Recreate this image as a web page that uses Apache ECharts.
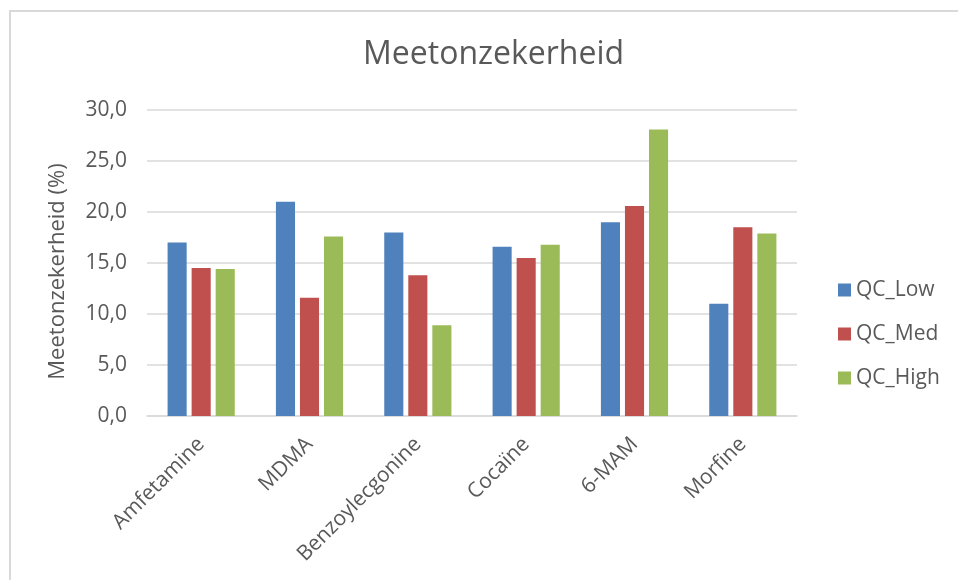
<!DOCTYPE html>
<html>
<head>
<meta charset="utf-8">
<script src="https://cdn.jsdelivr.net/npm/echarts@6/dist/echarts.min.js"></script>
<style>
  html, body { margin: 0; padding: 0; background: #fff; }
  #chart { width: 958px; height: 580px; }
</style>
</head>
<body>
<div id="chart"></div>
<script>
// Measurement uncertainty per compound and QC level (%)
const categories = ['Amfetamine', 'MDMA', 'Benzoylecgonine', 'Cocaïne', '6-MAM', 'Morfine'];
const seriesNames = ['QC_Low', 'QC_Med', 'QC_High'];
const qcLow  = [17.0, 21.0, 18.0, 16.6, 19.0, 11.0];
const qcMed  = [14.5, 11.6, 13.8, 15.5, 20.6, 18.5];
const qcHigh = [14.4, 17.6, 8.9, 16.8, 28.1, 17.9];
const colors = ['#4F81BD', '#C0504D', '#9BBB59'];

const FONT = 'Open Sans';
const TEXT = '#595959';

const chart = echarts.init(document.getElementById('chart'), null, { renderer: 'canvas' });

const seriesData = [qcLow, qcMed, qcHigh];

chart.setOption({
  backgroundColor: '#fff',
  animation: false,
  textStyle: { fontFamily: FONT, color: TEXT },
  title: {
    text: 'Meetonzekerheid',
    left: 358,
    top: 34,
    textStyle: { fontFamily: FONT, fontSize: 32, fontWeight: 'normal', color: TEXT }
  },
  legend: {
    orient: 'vertical',
    left: 833,
    top: 274,
    itemWidth: 13,
    itemHeight: 13,
    itemGap: 22,
    icon: 'rect',
    data: seriesNames,
    textStyle: { fontFamily: FONT, fontSize: 21, color: TEXT, lineHeight: 22 }
  },
  grid: { left: 147, right: 161, top: 110, bottom: 164, containLabel: false },
  xAxis: {
    type: 'category',
    data: categories,
    axisTick: { show: false },
    axisLine: { lineStyle: { color: '#d9d9d9', width: 1.5 } },
    axisLabel: { rotate: 45, fontFamily: FONT, fontSize: 21, color: TEXT, margin: 25, interval: 0 }
  },
  yAxis: {
    type: 'value',
    min: 0,
    max: 30,
    interval: 5,
    name: 'Meetonzekerheid (%)',
    nameLocation: 'middle',
    nameGap: 78,
    nameTextStyle: { fontFamily: FONT, fontSize: 22, color: TEXT, padding: [0, 17, 0, 0] },
    axisLine: { show: false },
    axisTick: { show: false },
    splitLine: { lineStyle: { color: '#d9d9d9', width: 1.5 } },
    axisLabel: {
      fontFamily: FONT, fontSize: 21, color: TEXT, margin: 20,
      formatter: v => v.toFixed(1).replace('.', ',')
    }
  },
  series: seriesNames.map((name, i) => ({
    name: name,
    type: 'bar',
    data: seriesData[i],
    barGap: '26%',
    barCategoryGap: '38%',
    itemStyle: { color: colors[i] }
  })),
  graphic: [{
    type: 'rect',
    shape: { x: 10, y: 11, width: 960, height: 580 },
    style: { fill: 'none', stroke: '#d9d9d9', lineWidth: 2 },
    silent: true
  }]
});
</script>
</body>
</html>
